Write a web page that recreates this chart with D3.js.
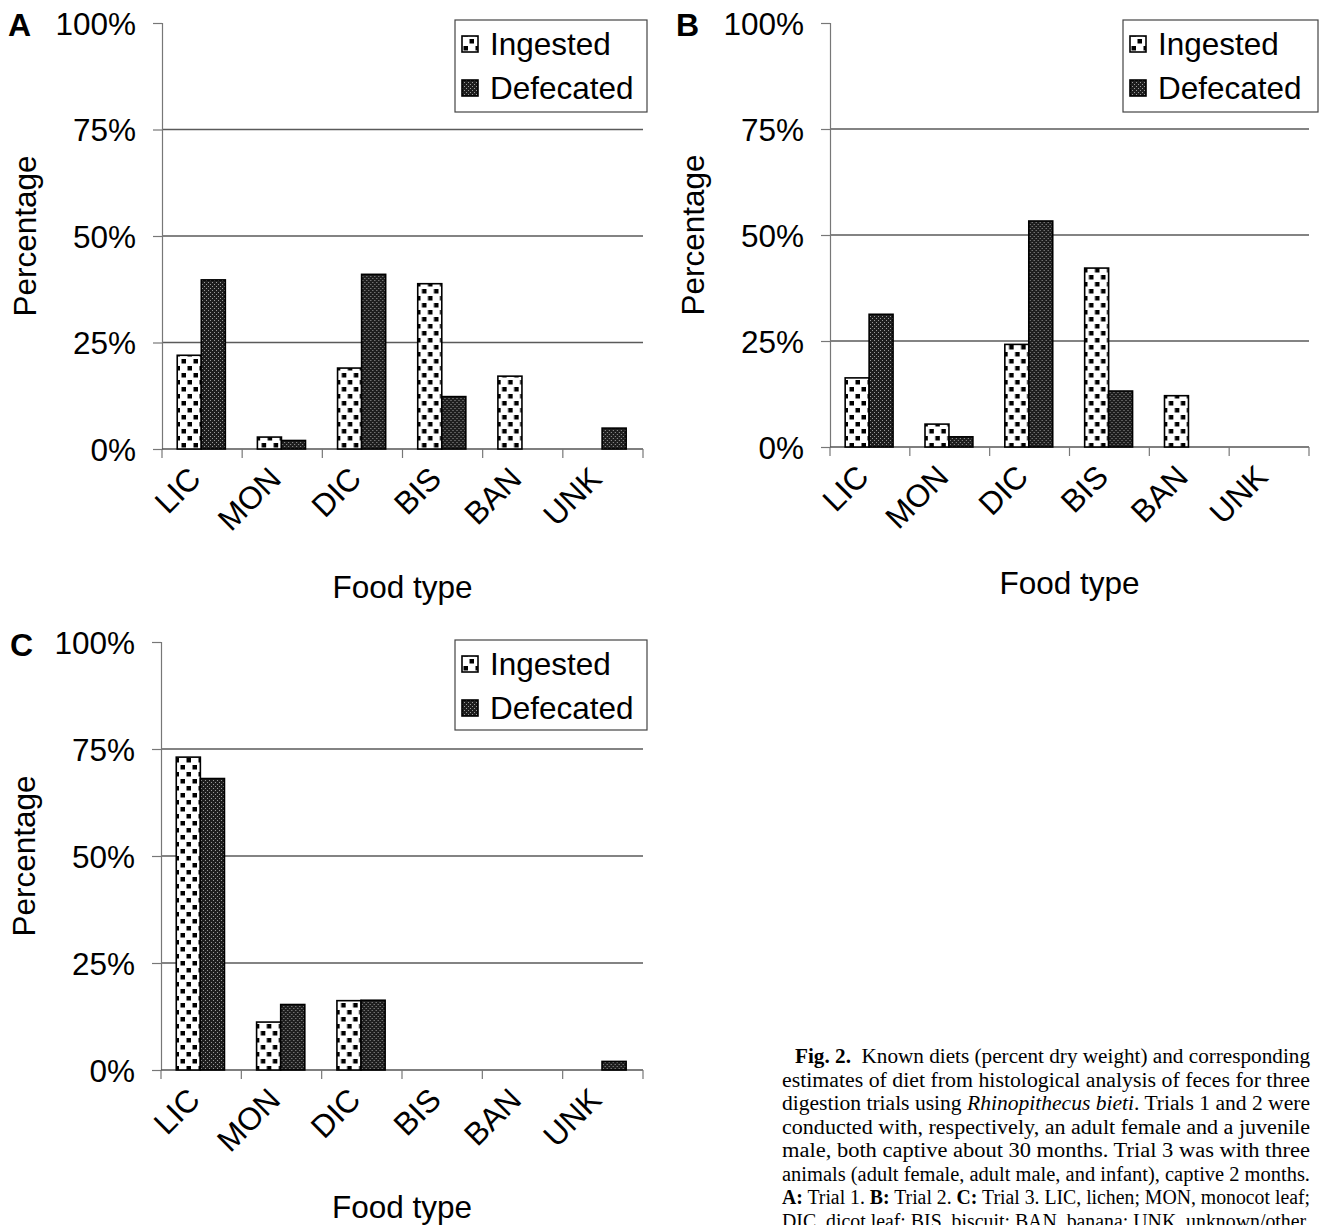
<!DOCTYPE html>
<html>
<head>
<meta charset="utf-8">
<script src="https://cdn.jsdelivr.net/npm/d3@7"></script>
<style>
  body { margin: 0; background: #fff; }
  svg { display: block; }
</style>
</head>
<body>
<div id="viz"></div>
<script>
// data (percent dry weight)
var categories = ["LIC", "MON", "DIC", "BIS", "BAN", "UNK"];
var seriesNames = ["Ingested", "Defecated"];
var yTicks = [0, 25, 50, 75, 100];

var ingestedA = [22.0, 2.8, 19.0, 38.8, 17.1, 0];
var defecatedA = [39.7, 2.0, 41.0, 12.3, 0, 4.9];
var ingestedB = [16.3, 5.4, 24.2, 42.2, 12.1, 0];
var defecatedB = [31.3, 2.4, 53.3, 13.2, 0, 0];
var ingestedC = [73.1, 11.2, 16.2, 0, 0, 0];
var defecatedC = [68.1, 15.3, 16.3, 0, 0, 2.0];

var captionLines = [
  [["b", "Fig. 2."], ["r", "  Known diets (percent dry weight) and corresponding"]],
  [["r", "estimates of diet from histological analysis of feces for three"]],
  [["r", "digestion trials using "], ["i", "Rhinopithecus bieti"], ["r", ". Trials 1 and 2 were"]],
  [["r", "conducted with, respectively, an adult female and a juvenile"]],
  [["r", "male, both captive about 30 months. Trial 3 was with three"]],
  [["r", "animals (adult female, adult male, and infant), captive 2 months."]],
  [["b", "A:"], ["r", " Trial 1. "], ["b", "B:"], ["r", " Trial 2. "], ["b", "C:"], ["r", " Trial 3. LIC, lichen; MON, monocot leaf;"]],
  [["r", "DIC, dicot leaf; BIS, biscuit; BAN, banana; UNK, unknown/other."]]
];

var W = 1320, H = 1225;
var font = "'Liberation Sans', Arial, sans-serif";
var fs = 31.5;

var svg = d3.select("#viz").append("svg")
  .attr("width", W)
  .attr("height", H);

// fill patterns
var defs = svg.append("defs");
var pIng = defs.append("pattern")
  .attr("id", "ingPat")
  .attr("patternUnits", "userSpaceOnUse")
  .attr("width", 12).attr("height", 14);
pIng.append("rect").attr("width", 12).attr("height", 14).attr("fill", "#fff");
pIng.append("rect").attr("x", 1.5).attr("y", 2).attr("width", 4.5).attr("height", 4.5).attr("fill", "#000");
pIng.append("rect").attr("x", 7.5).attr("y", 9).attr("width", 4.5).attr("height", 4.5).attr("fill", "#000");

var pDef = defs.append("pattern")
  .attr("id", "defPat")
  .attr("patternUnits", "userSpaceOnUse")
  .attr("width", 4).attr("height", 4);
pDef.append("rect").attr("width", 4).attr("height", 4).attr("fill", "#1e1e1e");
pDef.append("rect").attr("x", 0).attr("y", 0).attr("width", 1).attr("height", 1).attr("fill", "#9a9a9a");
pDef.append("rect").attr("x", 2).attr("y", 2).attr("width", 1).attr("height", 1).attr("fill", "#9a9a9a");

var fills = { "Ingested": "url(#ingPat)", "Defecated": "url(#defPat)" };

var panels = [
  { letter: "A", lx: 8, ly: 36, x0: 162, x1: 643, yTop: 23, yBot: 449,
    ing: ingestedA, def: defecatedA, legend: { x: 455, y: 20, w: 192, h: 92 }, titleY: 598 },
  { letter: "B", lx: 676, ly: 36, x0: 830, x1: 1309, yTop: 23, yBot: 447,
    ing: ingestedB, def: defecatedB, legend: { x: 1123, y: 20, w: 195, h: 92 }, titleY: 594 },
  { letter: "C", lx: 10, ly: 656, x0: 161, x1: 643, yTop: 642, yBot: 1070,
    ing: ingestedC, def: defecatedC, legend: { x: 455, y: 640, w: 192, h: 90 }, titleY: 1218 }
];

panels.forEach(drawPanel);

function drawPanel(p) {
  var g = svg.append("g");

  var x = d3.scaleBand().domain(categories).range([p.x0, p.x1]).padding(0);
  var xs = d3.scaleBand().domain(seriesNames)
    .range([x.bandwidth() * 0.19, x.bandwidth() * 0.79]).padding(0);
  var y = d3.scaleLinear().domain([0, 100]).range([p.yBot, p.yTop]);

  // gridlines
  g.append("g").selectAll("line")
    .data(yTicks.filter(function(t) { return t > 0 && t < 100; }))
    .enter().append("line")
    .attr("x1", p.x0).attr("x2", p.x1)
    .attr("y1", function(d) { return y(d); })
    .attr("y2", function(d) { return y(d); })
    .attr("stroke", "#5a5a5a").attr("stroke-width", 1.3);

  // y axis
  var yAxis = g.append("g")
    .attr("transform", "translate(" + p.x0 + ",0)")
    .call(d3.axisLeft(y).tickValues(yTicks).tickSize(9)
      .tickFormat(function(d) { return d + "%"; }));
  yAxis.select(".domain").attr("stroke", "#777").attr("stroke-width", 1.2);
  yAxis.selectAll(".tick line").attr("stroke", "#777").attr("stroke-width", 1.2);
  yAxis.selectAll(".tick text")
    .attr("x", -26)
    .attr("dy", "0.36em")
    .attr("font-family", font)
    .attr("font-size", fs)
    .attr("fill", "#000");

  // x axis
  var xAxis = g.append("g")
    .attr("transform", "translate(0," + p.yBot + ")");
  xAxis.append("line")
    .attr("x1", p.x0).attr("x2", p.x1)
    .attr("stroke", "#555").attr("stroke-width", 1.4);
  xAxis.selectAll(".xtick")
    .data(categories.concat(["end"]))
    .enter().append("line")
    .attr("class", "xtick")
    .attr("x1", function(d, i) { return p.x0 + i * x.step(); })
    .attr("x2", function(d, i) { return p.x0 + i * x.step(); })
    .attr("y1", 0).attr("y2", 9)
    .attr("stroke", "#777").attr("stroke-width", 1.2);
  xAxis.selectAll(".xlab")
    .data(categories)
    .enter().append("text")
    .attr("class", "xlab")
    .attr("transform", function(d) {
      return "translate(" + (x(d) + x.bandwidth() / 2 - 15) + ",16) rotate(-45)";
    })
    .attr("text-anchor", "end")
    .attr("dy", "0.7em")
    .attr("font-family", font)
    .attr("font-size", fs)
    .text(function(d) { return d; });

  // bars
  var rows = categories.map(function(c, i) {
    return { cat: c, Ingested: p.ing[i], Defecated: p.def[i] };
  });
  var groups = g.append("g").selectAll("g")
    .data(rows)
    .enter().append("g")
    .attr("transform", function(d) { return "translate(" + x(d.cat) + ",0)"; });
  groups.selectAll("rect")
    .data(function(d) {
      return seriesNames.map(function(s) { return { key: s, value: d[s] }; })
        .filter(function(e) { return e.value > 0; });
    })
    .enter().append("rect")
    .attr("x", function(d) { return xs(d.key); })
    .attr("width", xs.bandwidth())
    .attr("y", function(d) { return y(d.value); })
    .attr("height", function(d) { return y(0) - y(d.value); })
    .attr("fill", function(d) { return fills[d.key]; })
    .attr("stroke", "#000")
    .attr("stroke-width", 1.6);

  // axis titles
  g.append("text")
    .attr("transform", "translate(" + (p.x0 - 126) + "," + ((p.yTop + p.yBot) / 2) + ") rotate(-90)")
    .attr("text-anchor", "middle")
    .attr("font-family", font)
    .attr("font-size", fs)
    .text("Percentage");

  g.append("text")
    .attr("x", (p.x0 + p.x1) / 2)
    .attr("y", p.titleY)
    .attr("text-anchor", "middle")
    .attr("font-family", font)
    .attr("font-size", fs)
    .text("Food type");

  // panel letter
  g.append("text")
    .attr("x", p.lx).attr("y", p.ly)
    .attr("font-family", font)
    .attr("font-weight", "bold")
    .attr("font-size", 32)
    .text(p.letter);

  // legend
  var L = p.legend;
  var lg = g.append("g").attr("transform", "translate(" + L.x + "," + L.y + ")");
  lg.append("rect")
    .attr("width", L.w).attr("height", L.h)
    .attr("fill", "#fff")
    .attr("stroke", "#444").attr("stroke-width", 1.2);
  var items = lg.selectAll(".item")
    .data(seriesNames)
    .enter().append("g")
    .attr("class", "item")
    .attr("transform", function(d, i) { return "translate(7," + (24 + i * 44) + ")"; });
  items.append("rect")
    .attr("x", 0).attr("y", -8)
    .attr("width", 16).attr("height", 16)
    .attr("fill", function(d) { return fills[d]; })
    .attr("stroke", "#000").attr("stroke-width", 1.6);
  items.append("text")
    .attr("x", 28)
    .attr("dy", "0.36em")
    .attr("font-family", font)
    .attr("font-size", fs)
    .text(function(d) { return d; });
}

// caption
var cap = svg.append("g");
var capLeft = 782, capRight = 1310;
captionLines.forEach(function(line, i) {
  var startX = i === 0 ? 795 : capLeft;
  var t = cap.append("text")
    .attr("x", startX)
    .attr("y", 1063 + i * 23.5)
    .attr("font-family", "'Liberation Serif', 'Times New Roman', serif")
    .attr("font-size", 20.5)
    .attr("xml:space", "preserve")
    .attr("textLength", capRight - startX)
    .attr("lengthAdjust", "spacingAndGlyphs");
  line.forEach(function(seg) {
    t.append("tspan")
      .attr("font-weight", seg[0] === "b" ? "bold" : null)
      .attr("font-style", seg[0] === "i" ? "italic" : null)
      .text(seg[1]);
  });
});
</script>
</body>
</html>
